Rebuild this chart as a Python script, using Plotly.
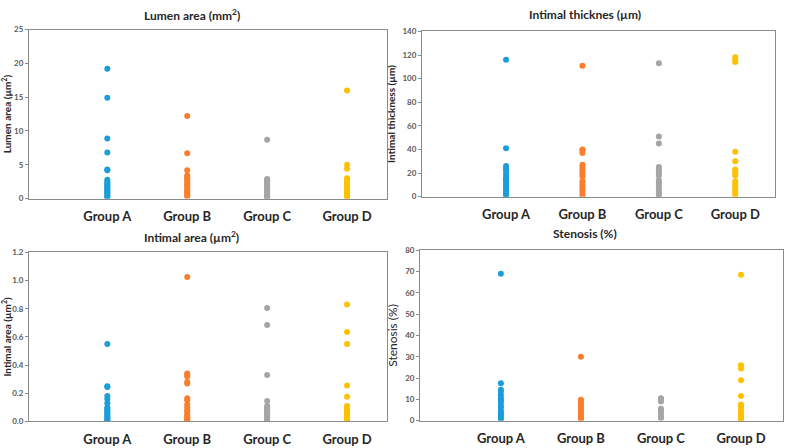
import plotly.graph_objects as go

groups = ["Group A", "Group B", "Group C", "Group D"]
group_pos = [1, 2, 3, 4]
colors = ["#1B9DDB", "#FB7E2C", "#A5A5A5", "#FFC000"]

lumen_A = [19.2, 14.9, 8.9, 6.8, 4.3, 4.2, 2.8, 2.5, 2.3, 2.1, 1.9, 1.7, 1.5, 1.3, 1.1, 0.9, 0.7, 0.5, 0.3, 0.1]
lumen_B = [12.2, 6.7, 4.2, 3.4, 3.2, 3.0, 2.8, 2.5, 2.2, 2.0, 1.8, 1.5, 1.2, 1.0, 0.8, 0.5, 0.3]
lumen_C = [8.7, 2.9, 2.7, 2.5, 2.3, 2.1, 1.9, 1.6, 1.4, 1.2, 1.0, 0.8, 0.6, 0.4, 0.2, 0.1]
lumen_D = [16.0, 5.0, 4.4, 3.0, 2.8, 2.5, 2.2, 2.0, 1.8, 1.5, 1.2, 1.0, 0.8, 0.5, 0.3, 0.1]

thick_A = [116, 41, 26, 24, 22, 19, 16, 15, 14, 12, 10, 8, 6, 4, 2, 1]
thick_B = [111, 40, 39, 37, 27, 25, 23, 21, 19, 17, 13, 11, 9, 7, 5, 3, 1]
thick_C = [113, 51, 45, 25, 24, 22, 20, 18, 14, 12, 10, 8, 6, 4, 2, 1]
thick_D = [118, 116, 114, 38, 30, 23, 22, 20, 18, 13, 11, 9, 7, 5, 3, 1]

iarea_A = [0.55, 0.25, 0.245, 0.18, 0.16, 0.13, 0.10, 0.09, 0.08, 0.07, 0.06, 0.05, 0.04, 0.03, 0.02, 0.01, 0.0]
iarea_B = [1.025, 0.34, 0.33, 0.32, 0.28, 0.27, 0.165, 0.15, 0.12, 0.10, 0.08, 0.07, 0.05, 0.04, 0.03, 0.02, 0.01, 0.0]
iarea_C = [0.805, 0.685, 0.33, 0.145, 0.11, 0.10, 0.09, 0.08, 0.07, 0.06, 0.05, 0.04, 0.03, 0.02, 0.01, 0.0]
iarea_D = [0.83, 0.635, 0.55, 0.255, 0.175, 0.11, 0.10, 0.09, 0.08, 0.07, 0.06, 0.05, 0.04, 0.03, 0.02, 0.01, 0.0]

sten_A = [69, 17.5, 14.5, 13.5, 12, 10.5, 9.5, 8.5, 7, 6, 4.5, 3.5, 3, 2, 1, 0]
sten_B = [30, 9.8, 9.3, 8.5, 8, 7, 6, 5, 4, 3, 2, 1, 0.5]
sten_C = [10.5, 10, 9, 5.5, 4.5, 3.5, 2, 1]
sten_D = [68.5, 26, 24.5, 19, 11.5, 7.5, 6.5, 5, 4, 3, 2, 1, 0.5, 0]

panels = [
    dict(data=[lumen_A, lumen_B, lumen_C, lumen_D], title="Lumen area (mm<sup>2</sup>)",
         ytitle="Lumen area (µm<sup>2</sup>)", yrange=[0, 25], dtick=5, fmt="",
         xdom=[0.0369, 0.4924], ydom=[0.558, 0.944], xrange=[0.02, 4.5],
         tx=0.244, ty=0.978, ybold=True, ysize=10),
    dict(data=[thick_A, thick_B, thick_C, thick_D], title="Intimal thicknes (µm)",
         ytitle="Intimal thickness (µm)", yrange=[0, 140], dtick=20, fmt="",
         xdom=[0.5369, 0.986], ydom=[0.5625, 0.9397], xrange=[-0.1, 4.52],
         tx=0.744, ty=0.978, ybold=True, ysize=10),
    dict(data=[iarea_A, iarea_B, iarea_C, iarea_D], title="Intimal area (µm<sup>2</sup>)",
         ytitle="Intimal area (µm<sup>2</sup>)", yrange=[0, 1.2], dtick=0.2, fmt=".1f",
         xdom=[0.0369, 0.4924], ydom=[0.0491, 0.4353], xrange=[0.02, 4.5],
         tx=0.244, ty=0.471, ybold=True, ysize=10),
    dict(data=[sten_A, sten_B, sten_C, sten_D], title="Stenosis (%)",
         ytitle="Stenosis (%)", yrange=[0, 80], dtick=10, fmt="",
         xdom=[0.5344, 0.9962], ydom=[0.0513, 0.4397], xrange=[-0.01, 4.525],
         tx=0.744, ty=0.478, ybold=False, ysize=12),
]

fig = go.Figure()
annotations = []
for i, p in enumerate(panels):
    n = "" if i == 0 else str(i + 1)
    for g, vals in enumerate(p["data"]):
        fig.add_trace(go.Scatter(
            x=[group_pos[g]] * len(vals), y=vals, mode="markers",
            marker=dict(color=colors[g], size=6, line=dict(width=0)),
            xaxis="x" + n, yaxis="y" + n, showlegend=False, hoverinfo="y"))
    ytitle = ("<b>" + p["ytitle"] + "</b>") if p["ybold"] else p["ytitle"]
    fig.layout["xaxis" + n] = dict(
        domain=p["xdom"], anchor="y" + n, range=p["xrange"],
        tickmode="array", tickvals=group_pos, ticktext=["<b>" + g + "</b>" for g in groups],
        tickfont=dict(family="Lato", size=13, color="#262626"),
        ticks="", ticklabelstandoff=6, showgrid=False, zeroline=False,
        showline=True, mirror=True, linecolor="#8a8a8a", linewidth=1, fixedrange=True)
    fig.layout["yaxis" + n] = dict(
        domain=p["ydom"], anchor="x" + n, range=p["yrange"], dtick=p["dtick"],
        tickformat=p["fmt"], tickfont=dict(family="Lato", size=8, color="#595959", weight="bold"),
        ticks="outside", ticklen=3, tickcolor="#8a8a8a",
        title=dict(text=ytitle, font=dict(family="Lato", size=p["ysize"], color="#262626"), standoff=4),
        showgrid=False, zeroline=False,
        showline=True, mirror=True, linecolor="#8a8a8a", linewidth=1, fixedrange=True)
    annotations.append(dict(
        text="<b>" + p["title"] + "</b>", x=p["tx"], y=p["ty"], xref="paper", yref="paper",
        xanchor="center", yanchor="middle", showarrow=False,
        font=dict(family="Lato", size=12, color="#262626")))

fig.update_layout(
    width=786, height=448, margin=dict(l=0, r=0, t=0, b=0),
    paper_bgcolor="white", plot_bgcolor="white",
    annotations=annotations,
)

fig.write_html("out.html", config={"displayModeBar": False},
               post_script="document.body.style.margin='0';document.body.style.overflow='hidden';")
